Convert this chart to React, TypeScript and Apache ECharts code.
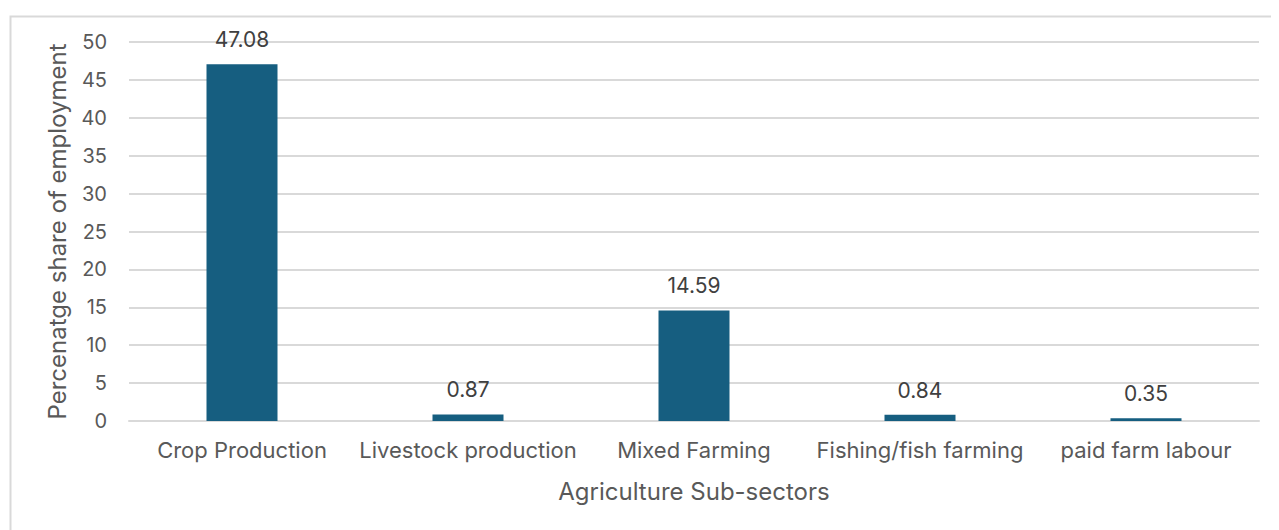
import React, { useEffect, useRef } from "react";
import * as echarts from "echarts";

const categories = ["Crop Production", "Livestock production", "Mixed Farming", "Fishing/fish farming", "paid farm labour"];
const values = [47.08, 0.87, 14.59, 0.84, 0.35];
const yTicks = { min: 0, max: 50, interval: 5 };

export default function App() {
  const ref = useRef<HTMLDivElement>(null);
  useEffect(() => {
    const chart = echarts.init(ref.current!, null, { renderer: "svg" });
    const font = "Inter, sans-serif";
    chart.setOption({
      animation: false,
      textStyle: { fontFamily: font },
      graphic: [
        {
          type: "rect",
          left: 0,
          top: 6,
          shape: { width: 1400, height: 600 },
          style: { fill: "none", stroke: "#d9d9d9", lineWidth: 2 },
          silent: true,
        },
      ],
      grid: { left: 121, right: 20, top: 34, bottom: 109 },
      xAxis: {
        type: "category",
        data: categories,
        axisLine: { lineStyle: { color: "#d9d9d9", width: 2 } },
        axisTick: { show: false },
        axisLabel: { color: "#595959", fontSize: 22, margin: 18, interval: 0, fontFamily: font },
        name: "Agriculture Sub-sectors",
        nameLocation: "middle",
        nameGap: 58,
        nameTextStyle: { color: "#595959", fontSize: 24, fontFamily: font },
      },
      yAxis: {
        type: "value",
        min: yTicks.min,
        max: yTicks.max,
        interval: yTicks.interval,
        axisLine: { show: false },
        axisTick: { show: false },
        splitLine: { lineStyle: { color: "#d9d9d9", width: 2 } },
        axisLabel: { color: "#595959", fontSize: 20, margin: 22, fontFamily: font },
        name: "Percenatge share of employment",
        nameLocation: "middle",
        nameGap: 60,
        nameTextStyle: { color: "#595959", fontSize: 24, fontFamily: font },
      },
      series: [
        {
          type: "bar",
          data: values,
          barWidth: 71,
          itemStyle: { color: "#165e80" },
          label: {
            show: true,
            position: "top",
            distance: 14,
            color: "#404040",
            fontSize: 21,
            fontFamily: font,
            formatter: (p: any) => p.value.toFixed(2),
          },
        },
      ],
    });
    return () => chart.dispose();
  }, []);
  return <div ref={ref} style={{ width: 1271, height: 522 }} />;
}
